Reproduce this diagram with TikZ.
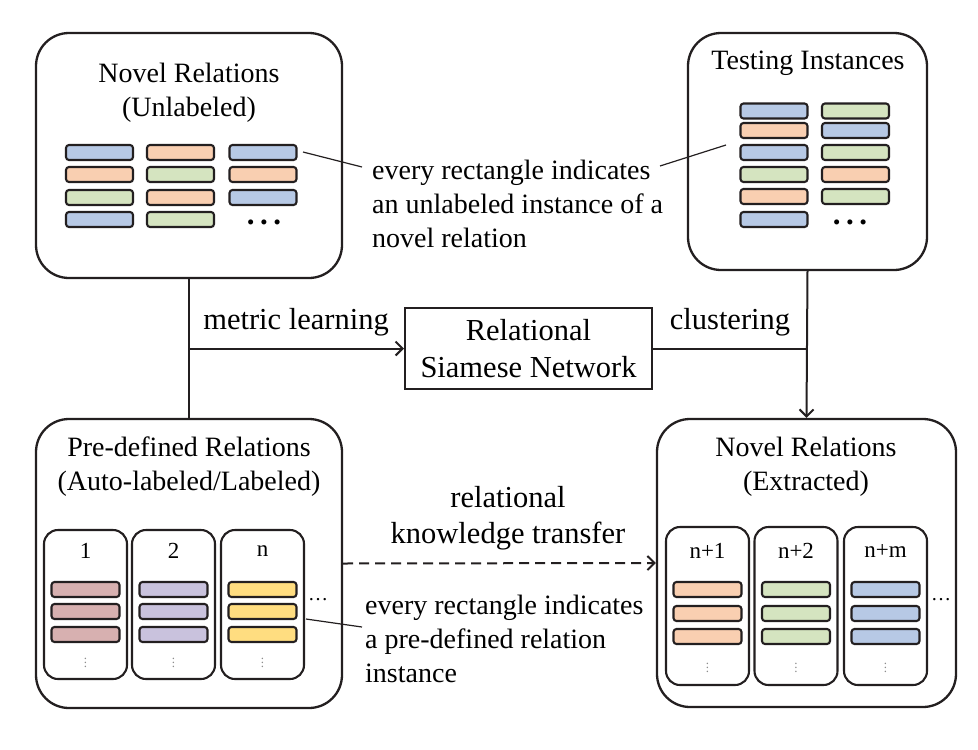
\documentclass[tikz,border=0pt]{standalone}
\usepackage{fontspec}
\setmainfont{Liberation Serif}
\usetikzlibrary{arrows.meta}
\definecolor{cb}{HTML}{B7C9E5}
\definecolor{co}{HTML}{F9CFB1}
\definecolor{cg}{HTML}{D5E4C0}
\definecolor{cr}{HTML}{D7B0B0}
\definecolor{cl}{HTML}{C9C2DD}
\definecolor{cy}{HTML}{FFDD80}
\definecolor{ink}{HTML}{231F20}
\newcommand\fbig{\fontsize{28}{34.2}\selectfont}
\newcommand\fnote{\fontsize{28}{33.8}\selectfont}
\newcommand\fmid{\fontsize{30.5}{36}\selectfont}
\newcommand\fsub{\fontsize{23}{27}\selectfont}
\newcommand\wdots{.\hspace{5.5pt}.\hspace{5.5pt}.}
\begin{document}
\begin{tikzpicture}[x=1pt,y=-1pt,
  bigbox/.style={draw=ink, line width=2.3pt, rounded corners=33pt, inner sep=0pt},
  subbox/.style={draw=ink, line width=2.1pt, rounded corners=14pt, inner sep=0pt, minimum width=83pt},
  inst/.style={draw=ink, line width=2.1pt, rounded corners=3pt, minimum width=67pt, minimum height=15pt, inner sep=0pt},
  ttl/.style={font=\fbig, align=center, inner sep=0pt},
  lbl/.style={font=\fmid, align=center, inner sep=0pt},
  note/.style={font=\fnote, align=left, inner sep=0pt, anchor=north west},
  conn/.style={draw=ink, line width=2pt},
  callout/.style={draw=ink, line width=1.2pt},
  tip/.style={-{Straight Barb[length=7pt,width=14pt,line width=2pt]}},
  vd/.style={font=\fontsize{13}{14}\selectfont, text=black!45, inner sep=0pt},
  hd/.style={font=\fontsize{20}{22}\selectfont, inner sep=0pt},
  bd/.style={font=\fontsize{31}{33}\selectfont\bfseries, inner sep=0pt, anchor=base}
]
\useasboundingbox (0,0) rectangle (978,750);
% main boxes
\node[bigbox, minimum width=306pt, minimum height=245pt] (tl) at (189,155.5) {};
\node[bigbox, minimum width=239pt, minimum height=237pt] (tr) at (807.5,151.5) {};
\node[bigbox, minimum width=306pt, minimum height=289pt] (bl) at (189,563.5) {};
\node[bigbox, minimum width=299pt, minimum height=288pt] (br) at (806.5,563) {};
\node[draw=ink, line width=2pt, minimum width=247pt, minimum height=81pt, font=\fmid, align=center, inner sep=0pt] (rsn) at (528.5,348.5) {Relational\\[1pt]Siamese Network};
% titles
\node[ttl] (tlt) at (189,92.5) {Novel Relations\\(Unlabeled)};
\node[ttl] (trt) at (808,63) {Testing Instances};
\node[ttl] (blt) at (189,467) {Pre-defined Relations\\(Auto-labeled/Labeled)};
\node[ttl] (brt) at (806,467) {Novel Relations\\(Extracted)};
% top-left instances
\foreach \x/\y/\c/\n in {99.5/152.5/cb/11, 99.5/174.5/co/12, 99.5/197.5/cg/13, 99.5/219.5/cb/14,
                        180.5/152.5/co/21, 180.5/174.5/cg/22, 180.5/197.5/co/23, 180.5/219.5/cg/24,
                        263/152.5/cb/31, 263/174.5/co/32, 263/197.5/cb/33}
  \node[inst, fill=\c] (tl\n) at (\x,\y) {};
\node[bd] (tldots) at (264,224) {\wdots};
% top-right instances
\foreach \x/\y/\c/\n in {774/111/cb/11, 774/130.5/co/12, 774/152.5/cb/13, 774/174.5/cg/14, 774/196.5/co/15, 774/219.5/cb/16,
                        855.5/111/cg/21, 855.5/130.5/cb/22, 855.5/152.5/cg/23, 855.5/174.5/co/24, 855.5/196.5/cg/25}
  \node[inst, fill=\c] (tr\n) at (\x,\y) {};
\node[bd] (trdots) at (850,224) {\wdots};
% bottom-left sub boxes
\foreach \x/\t/\c/\n in {85.5/1/cr/1, 173.5/2/cl/2, 262.5/n/cy/3} {
  \node[subbox, minimum height=149pt] (bls\n) at (\x,604.5) {};
  \node[font=\fsub, inner sep=0pt] (blsl\n) at (\x,551) {\t};
  \foreach \y/\k in {589.5/a, 611.5/b, 634.5/c}
    \node[inst, minimum width=68pt, fill=\c] (bli\n\k) at (\x,\y) {};
  \node[vd] (blv\n) at (\x,660) {$\vdots$};
}
\node[hd] (bldots) at (318,600) {\ldots};
% bottom-right sub boxes
\foreach \x/\t/\c/\n in {707.5/n+1/co/1, 796/n+2/cg/2, 885.5/n+m/cb/3} {
  \node[subbox, minimum height=158pt] (brs\n) at (\x,606) {};
  \node[font=\fsub, inner sep=0pt] (brsl\n) at (\x,551) {\t};
  \foreach \y/\k in {589.5/a, 613.5/b, 636.5/c}
    \node[inst, minimum width=68pt, fill=\c] (bri\n\k) at (\x,\y) {};
  \node[vd] (brv\n) at (\x,665) {$\vdots$};
}
\node[hd] (brdots) at (941,600) {\ldots};
% connectors
\coordinate (ml) at (tl.south |- rsn.west);
\coordinate (cl) at (tr.south |- rsn.east);
\draw[conn] (tl.south) -- (bl.north);
\draw[conn, tip] (ml) -- (rsn.west);
\draw[conn] (rsn.east) -- (cl);
\draw[conn, tip] (tr.south) -- (br.north);
\draw[conn, tip, dash pattern=on 10pt off 6pt] (bl.east) -- (br.west);
\node[lbl] (mltxt) at (296,322) {metric learning};
\node[lbl] (cltxt) at (730,322) {clustering};
\node[lbl] (rkt) at (508,518) {relational\\knowledge transfer};
% callouts
\node[note] (n1) at (372,160) {every rectangle indicates\\an unlabeled instance of a\\novel relation};
\node[note] (n2) at (365,595) {every rectangle indicates\\a pre-defined relation\\instance};
\coordinate (c1a) at (303,152);
\coordinate (c1b) at (362,167);
\coordinate (c2a) at (660,166);
\coordinate (c2b) at (726,145);
\coordinate (c3a) at (306,619);
\coordinate (c3b) at (362,627);
\draw[callout] (c1a) -- (c1b);
\draw[callout] (c2a) -- (c2b);
\draw[callout] (c3a) -- (c3b);
\end{tikzpicture}
\end{document}
